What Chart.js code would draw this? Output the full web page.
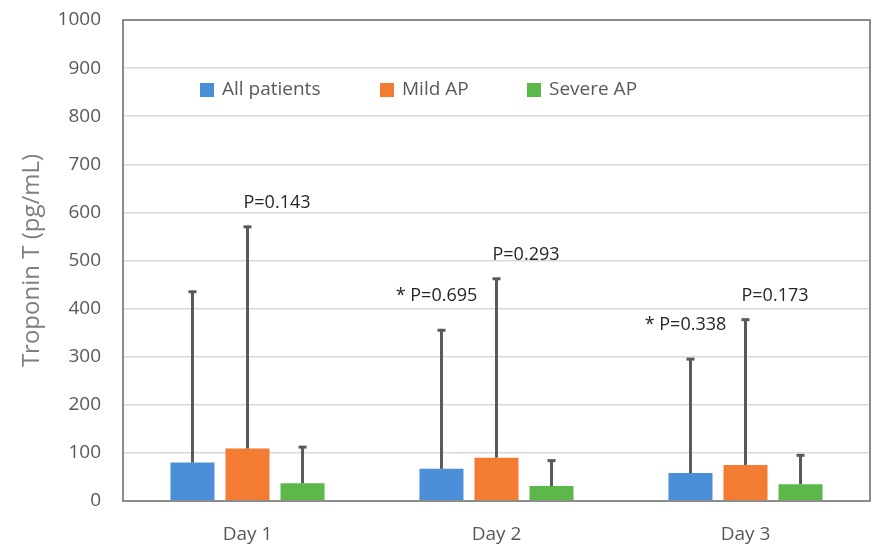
<!DOCTYPE html>
<html>
<head>
<meta charset="utf-8">
<script src="https://cdn.jsdelivr.net/npm/chart.js@4"></script>
<style>
  html, body { margin: 0; padding: 0; background: #fff; }
  #wrap { width: 877px; height: 545px; }
</style>
</head>
<body>
<div id="wrap"><canvas id="barras" width="877" height="545"></canvas></div>
<script>
const dias = ["Day 1", "Day 2", "Day 3"];

const todos = [80, 67, 58];
const todosErr = [435, 355, 295];
const leve = [109, 90, 75];
const leveErr = [570, 462, 377];
const grave = [37, 31, 35];
const graveErr = [112, 84, 95];

const pTodos = [null, "* P=0.695", "* P=0.338"];
const pLeve = ["P=0.143", "P=0.293", "P=0.173"];

const FUENTE = "'Open Sans', 'DejaVu Sans', sans-serif";

// barras de error, marco, leyenda y valores P
const extras = {
    id: "extras",
    afterDatasetsDraw(chart) {
        const ctx = chart.ctx;
        const y = chart.scales.y;
        const area = chart.chartArea;
        const errores = [todosErr, leveErr, graveErr];

        ctx.save();
        ctx.strokeStyle = "#595959";
        ctx.lineWidth = 3;
        errores.forEach((err, i) => {
            const meta = chart.getDatasetMeta(i);
            meta.data.forEach((bar, j) => {
                const yTop = y.getPixelForValue(err[j]);
                ctx.beginPath();
                ctx.moveTo(bar.x, bar.y);
                ctx.lineTo(bar.x, yTop);
                ctx.stroke();
                ctx.beginPath();
                ctx.moveTo(bar.x - 4, yTop);
                ctx.lineTo(bar.x + 4, yTop);
                ctx.stroke();
            });
        });

        // marco del area
        ctx.strokeStyle = "#8c8c8c";
        ctx.lineWidth = 2;
        ctx.strokeRect(area.left, area.top, area.right - area.left, area.bottom - area.top);

        // valores P
        ctx.fillStyle = "#262626";
        ctx.font = "18px " + FUENTE;
        ctx.textBaseline = "middle";
        const metaLeve = chart.getDatasetMeta(1);
        pLeve.forEach((t, j) => {
            if (!t) return;
            ctx.textAlign = "left";
            ctx.fillText(t, metaLeve.data[j].x - 4, y.getPixelForValue(leveErr[j]) - 24);
        });
        const metaTodos = chart.getDatasetMeta(0);
        pTodos.forEach((t, j) => {
            if (!t) return;
            ctx.textAlign = "center";
            ctx.fillText(t, metaTodos.data[j].x - 5, y.getPixelForValue(todosErr[j]) - 34);
        });

        // leyenda dentro del grafico
        const xs = [200, 380, 527];
        ctx.font = "19px " + FUENTE;
        ctx.textAlign = "left";
        chart.data.datasets.forEach((ds, i) => {
            ctx.fillStyle = ds.backgroundColor;
            ctx.fillRect(xs[i], 83, 14, 14);
            ctx.fillStyle = "#595959";
            ctx.fillText(ds.label, xs[i] + 22, 90);
        });
        ctx.restore();
    }
};

const datos = {
    labels: dias,
    datasets: [
        { label: "All patients", backgroundColor: "#4a8fd8", data: todos },
        { label: "Mild AP", backgroundColor: "#f47b32", data: leve },
        { label: "Severe AP", backgroundColor: "#5db84a", data: grave }
    ]
};

const config = {
    type: "bar",
    data: datos,
    options: {
        responsive: false,
        maintainAspectRatio: false,
        animation: false,
        categoryPercentage: 0.663,
        barPercentage: 0.8,
        layout: { padding: { top: 20, right: 7, left: 0, bottom: 0 } },
        plugins: {
            legend: { display: false },
            tooltip: { enabled: false }
        },
        scales: {
            x: {
                grid: { display: false },
                border: { color: "#8c8c8c", width: 2 },
                ticks: { color: "#595959", font: { family: FUENTE, size: 19 }, padding: 14 },
                afterFit: s => { s.height = 44; }
            },
            y: {
                min: 0,
                max: 1000,
                ticks: {
                    stepSize: 100,
                    color: "#595959",
                    font: { family: FUENTE, size: 19 },
                    padding: 22,
                    callback: v => String(v)
                },
                grid: { color: "#d9d9d9", lineWidth: 1.5, drawTicks: false },
                border: { color: "#8c8c8c", width: 2 },
                title: {
                    display: true,
                    text: "Troponin T (pg/mL)",
                    color: "#7f7f7f",
                    font: { family: FUENTE, size: 24 },
                    padding: { top: 18, bottom: 0 }
                },
                afterFit: s => {
                    s.width = 123;
                    s.paddingTop = 0;
                    s.paddingBottom = 0;
                }
            }
        }
    },
    plugins: [extras]
};

new Chart(document.getElementById("barras").getContext("2d"), config);
</script>
</body>
</html>
